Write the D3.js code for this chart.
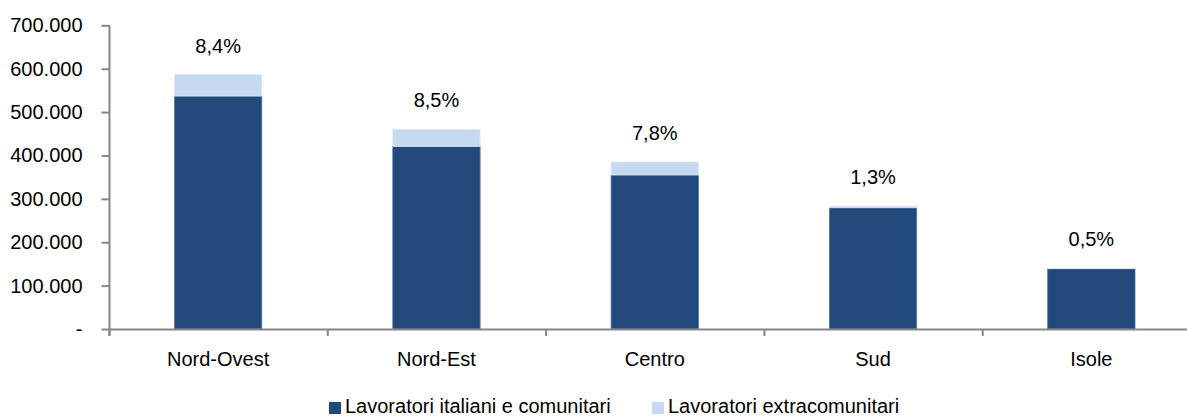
<!DOCTYPE html>
<html>
<head>
<meta charset="utf-8">
<script src="https://cdn.jsdelivr.net/npm/d3@7"></script>
<style>
  html, body { margin: 0; padding: 0; background: #ffffff; }
  svg { display: block; }
  text { font-family: "Liberation Sans", Arial, sans-serif; fill: #000; }
</style>
</head>
<body>
<svg id="chart" width="1187" height="418"></svg>
<script>
// Ripartizioni territoriali
const categories = ["Nord-Ovest", "Nord-Est", "Centro", "Sud", "Isole"];
// Lavoratori italiani e comunitari
const italiani = [537000, 421000, 355000, 279500, 139000];
// Lavoratori extracomunitari
const extracomunitari = [49500, 39000, 30000, 3700, 700];
// Quota extracomunitari sul totale
const quote = ["8,4%", "8,5%", "7,8%", "1,3%", "0,5%"];
const yTicks = [0, 100000, 200000, 300000, 400000, 500000, 600000, 700000];
const seriesNames = ["Lavoratori italiani e comunitari", "Lavoratori extracomunitari"];

const colDark = "#214A7B";
const colLight = "#C6D9F1";
const axisCol = "#868686";

const svg = d3.select("#chart");
const fontSize = 20;

const it = d3.formatLocale({ decimal: ",", thousands: ".", grouping: [3], currency: ["€", ""] });
const fmt = it.format(",.0f");

const x0 = 109, step = 218.3;
const x = d3.scaleBand()
  .domain(categories)
  .range([x0, x0 + step * categories.length])
  .paddingInner(0.6)
  .paddingOuter(0.3);

const y = d3.scaleLinear().domain([0, 700000]).range([329, 25.3]);

// Asse Y
const yAxis = d3.axisLeft(y)
  .tickValues(yTicks)
  .tickSize(8)
  .tickPadding(19)
  .tickFormat(d => d === 0 ? "-" : fmt(d));

const gy = svg.append("g").attr("transform", `translate(${x0 + 0.5},0)`).call(yAxis);
gy.select(".domain").remove();
gy.selectAll(".tick line").attr("stroke", axisCol).attr("stroke-width", 2);
gy.selectAll(".tick text").attr("font-size", fontSize).attr("font-family", "Liberation Sans, Arial, sans-serif").attr("fill", "#000");
gy.append("line")
  .attr("x1", 0).attr("x2", 0)
  .attr("y1", y(700000)).attr("y2", y(0) + 7)
  .attr("stroke", axisCol).attr("stroke-width", 2);

// Barre impilate
const stacked = categories.map((c, i) => ({
  cat: c,
  a: italiani[i],
  b: extracomunitari[i],
  tot: italiani[i] + extracomunitari[i],
  label: quote[i]
}));

const bars = svg.append("g");
bars.selectAll("rect.it").data(stacked).join("rect")
  .attr("class", "it")
  .attr("x", d => x(d.cat))
  .attr("width", x.bandwidth())
  .attr("y", d => y(d.a))
  .attr("height", d => y(0) - y(d.a))
  .attr("fill", colDark)
  .attr("stroke", "#5677A3")
  .attr("stroke-width", 0.8);

bars.selectAll("rect.ex").data(stacked).join("rect")
  .attr("class", "ex")
  .attr("x", d => x(d.cat))
  .attr("width", x.bandwidth())
  .attr("y", d => y(d.tot))
  .attr("height", d => y(d.a) - y(d.tot))
  .attr("fill", colLight)
  .attr("stroke", "#DCE7F5")
  .attr("stroke-width", 0.8);

// Etichette percentuali
svg.append("g").selectAll("text").data(stacked).join("text")
  .attr("x", d => x(d.cat) + x.bandwidth() / 2)
  .attr("y", d => y(d.tot) - 22)
  .attr("text-anchor", "middle")
  .attr("font-size", fontSize)
  .text(d => d.label);

// Asse X
const baseY = y(0);
svg.append("line")
  .attr("x1", x0).attr("x2", 1187)
  .attr("y1", baseY + 0.5).attr("y2", baseY + 0.5)
  .attr("stroke", axisCol).attr("stroke-width", 2);

const bounds = d3.range(categories.length + 1).map(i => x0 + i * x.step());
svg.append("g").selectAll("line").data(bounds.filter(b => b <= 1187)).join("line")
  .attr("x1", d => d + 0.5).attr("x2", d => d + 0.5)
  .attr("y1", baseY).attr("y2", baseY + 7)
  .attr("stroke", axisCol).attr("stroke-width", 2);

svg.append("g").selectAll("text").data(categories).join("text")
  .attr("x", d => x(d) + x.bandwidth() / 2)
  .attr("y", 366)
  .attr("text-anchor", "middle")
  .attr("font-size", fontSize)
  .text(d => d);

// Legenda
const legend = [
  { name: seriesNames[0], color: colDark, x: 329 },
  { name: seriesNames[1], color: colLight, x: 652 }
];
const lg = svg.append("g").selectAll("g").data(legend).join("g")
  .attr("transform", d => `translate(${d.x},0)`);
lg.append("rect").attr("x", 0).attr("y", 402).attr("width", 12).attr("height", 12).attr("fill", d => d.color);
lg.append("text").attr("x", 16).attr("y", 413).attr("font-size", fontSize).text(d => d.name);
</script>
</body>
</html>
